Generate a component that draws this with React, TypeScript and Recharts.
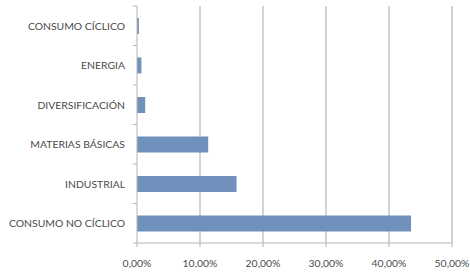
import { BarChart, Bar, XAxis, YAxis, CartesianGrid } from "recharts";

const sectors = [
  "CONSUMO CÍCLICO",
  "ENERGIA",
  "DIVERSIFICACIÓN",
  "MATERIAS BÁSICAS",
  "INDUSTRIAL",
  "CONSUMO NO CÍCLICO",
];
const weights = [0.003, 0.007, 0.013, 0.113, 0.158, 0.435];
const xTicks = [0, 0.1, 0.2, 0.3, 0.4, 0.5];

const data = sectors.map((name, i) => ({ name, value: weights[i] }));

const fmt = (v: number) => (v * 100).toFixed(2).replace(".", ",") + "%";

const font = "Lato, sans-serif";
const gray = "#b4b4b4";
const textColor = "#4a4a4a";
const labelGap = 12;

// one-line label plus Excel style tick marks between categories
const CategoryTick = (props: any) => {
  const { x, y, payload, index, visibleTicksCount } = props;
  const axisX = x + labelGap;
  const half = payload.offset ?? 0;
  const last = index === visibleTicksCount - 1;
  return (
    <g>
      <line x1={axisX - 4} x2={axisX} y1={y - half} y2={y - half} stroke={gray} />
      {last && (
        <line x1={axisX - 4} x2={axisX} y1={y + half} y2={y + half} stroke={gray} />
      )}
      <text
        x={x}
        y={y}
        dy={4}
        textAnchor="end"
        fill={textColor}
        fontSize={10.4}
        fontFamily={font}
      >
        {payload.value}
      </text>
    </g>
  );
};

export default function App() {
  return (
    <div style={{ position: "absolute", left: 0, top: 0, background: "#fff" }}>
      <BarChart
        width={470}
        height={275}
        data={data}
        layout="vertical"
        margin={{ top: 6, right: 18, bottom: 2, left: 0 }}
        barCategoryGap={0}
      >
        <CartesianGrid
          horizontal={false}
          stroke="#c4c4c4"
          strokeWidth={1.5}
          verticalValues={[0.1, 0.2, 0.3, 0.4, 0.5]}
        />
        <XAxis
          type="number"
          domain={[0, 0.5]}
          ticks={xTicks}
          tickFormatter={fmt}
          interval={0}
          height={30}
          stroke={gray}
          tickSize={4}
          tickMargin={13}
          tick={{ fill: textColor, fontSize: 10.4, fontFamily: font }}
        />
        <YAxis
          type="category"
          dataKey="name"
          width={137}
          stroke={gray}
          tickLine={false}
          tickSize={0}
          tickMargin={labelGap}
          interval={0}
          tick={<CategoryTick />}
        />
        <Bar
          dataKey="value"
          fill="#7091bb"
          barSize={16}
          isAnimationActive={false}
        />
      </BarChart>
    </div>
  );
}
